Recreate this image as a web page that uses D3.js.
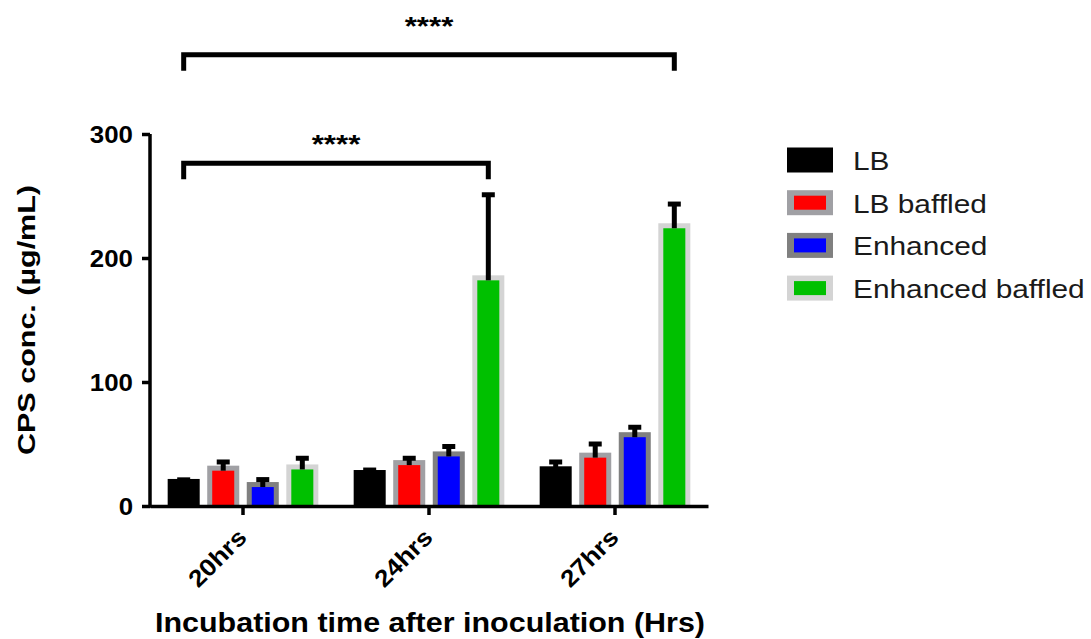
<!DOCTYPE html>
<html>
<head>
<meta charset="utf-8">
<script src="https://cdn.jsdelivr.net/npm/d3@7"></script>
<style>
  html, body { margin: 0; padding: 0; background: #fff; }
  svg { display: block; font-family: "Liberation Sans", Arial, sans-serif; }
</style>
</head>
<body>
<svg id="chart" width="1091" height="639"></svg>
<script>
// ---- data ----
const groups = ["20hrs", "24hrs", "27hrs"];
const seriesNames = ["LB", "LB baffled", "Enhanced", "Enhanced baffled"];
const lbMean = [19.8, 27, 30];
const lbErr = [1.3, 2, 5.5];
const lbBaffledMean = [30.5, 35, 41];
const lbBaffledErr = [5, 3.5, 9];
const enhancedMean = [17.3, 42, 57.5];
const enhancedErr = [4, 6, 6];
const enhancedBaffledMean = [31.5, 184, 226];
const enhancedBaffledErr = [7, 67, 17.5];
const yTicks = [0, 100, 200, 300];
const fillColors = ["#000000", "#ff0000", "#0000ff", "#00c000"];
const borderColors = ["#000000", "#a0a0a4", "#808080", "#d4d4d4"];
// significance brackets: [from group, from series, to group, to series, level (data units), label]
const brackets = [
  ["20hrs", "LB", "24hrs", "Enhanced baffled", 276.5, "****"],
  ["20hrs", "LB", "27hrs", "Enhanced baffled", 364, "****"]
];
const bracketLabelGap = [10, 20];

const means = [lbMean, lbBaffledMean, enhancedMean, enhancedBaffledMean];
const errs = [lbErr, lbBaffledErr, enhancedErr, enhancedBaffledErr];
const rows = [];
groups.forEach((g, gi) => seriesNames.forEach((s, si) => {
  rows.push({group: g, series: s, si, value: means[si][gi], err: errs[si][gi]});
}));

const svg = d3.select("#chart");
const FONT = '"Liberation Sans", Arial, sans-serif';

const x0 = d3.scaleBand().domain(groups).range([150, 708]).paddingInner(0.19).paddingOuter(0.095);
const x1 = d3.scaleBand().domain(seriesNames).range([0, x0.bandwidth()]).paddingInner(0.19).paddingOuter(0);
const y = d3.scaleLinear().domain([0, 300]).range([506, 134]);

function stretch(sel, f) {
  sel.each(function () {
    const len = this.getComputedTextLength();
    d3.select(this).attr("textLength", len * f).attr("lengthAdjust", "spacingAndGlyphs");
  });
}

// ---- bars ----
const B = 5; // border thickness
const barG = svg.append("g");
const bar = barG.selectAll("g.bar").data(rows).join("g").attr("class", "bar")
  .attr("transform", d => `translate(${x0(d.group) + x1(d.series)},0)`);
bar.append("rect")
  .attr("x", 0).attr("width", x1.bandwidth())
  .attr("y", d => y(d.value) - B / 2).attr("height", d => y(0) - y(d.value) + B / 2)
  .attr("fill", d => borderColors[d.si]);
bar.append("rect")
  .attr("x", B).attr("width", x1.bandwidth() - 2 * B)
  .attr("y", d => y(d.value) + B / 2).attr("height", d => Math.max(0, y(0) - y(d.value) - B / 2))
  .attr("fill", d => fillColors[d.si]);

// ---- error bars (upper only) ----
const eb = barG.selectAll("g.err").data(rows).join("g").attr("class", "err")
  .attr("transform", d => `translate(${x0(d.group) + x1(d.series) + x1.bandwidth() / 2},0)`);
eb.append("line")
  .attr("x1", 0).attr("x2", 0)
  .attr("y1", d => y(d.value) + B / 2).attr("y2", d => y(d.value + d.err))
  .attr("stroke", "#000").attr("stroke-width", 5);
eb.append("line")
  .attr("x1", -6.5).attr("x2", 6.5)
  .attr("y1", d => y(d.value + d.err)).attr("y2", d => y(d.value + d.err))
  .attr("stroke", "#000").attr("stroke-width", 5);

// ---- axes ----
const yAxis = svg.append("g").attr("transform", "translate(150,0)")
  .call(d3.axisLeft(y).tickValues(yTicks).tickSize(8).tickSizeOuter(0).tickPadding(9));
yAxis.select(".domain").attr("stroke-width", 3.5).attr("d", `M0,${y(0) + 1.75}V${y(300)}`);
yAxis.selectAll(".tick line").attr("stroke-width", 3.5);
yAxis.selectAll(".tick text").attr("font-family", FONT).attr("font-weight", "bold")
  .attr("font-size", 23.5).attr("fill", "#000").attr("dy", "0.36em").call(stretch, 1.1);

const xAxis = svg.append("g").attr("transform", `translate(0,${y(0)})`)
  .call(d3.axisBottom(x0).tickSize(9).tickSizeOuter(0).tickPadding(0));
xAxis.select(".domain").attr("stroke-width", 3.5);
xAxis.selectAll(".tick line").attr("stroke-width", 3.5);
xAxis.selectAll(".tick text").attr("font-family", FONT).attr("font-weight", "bold")
  .attr("font-size", 24).attr("fill", "#000")
  .attr("y", 0).attr("dy", 0).attr("text-anchor", "end")
  .attr("transform", "translate(5,33) rotate(-45)").call(stretch, 1.1);

// ---- axis titles ----
svg.append("text")
  .attr("transform", `translate(35,${(134 + 506) / 2}) rotate(-90)`)
  .attr("text-anchor", "middle").attr("font-family", FONT).attr("font-weight", "bold")
  .attr("font-size", 24).attr("fill", "#000")
  .attr("textLength", 270).attr("lengthAdjust", "spacingAndGlyphs")
  .text("CPS conc. (µg/mL)");
svg.append("text")
  .attr("x", 430).attr("y", 632)
  .attr("text-anchor", "middle").attr("font-family", FONT).attr("font-weight", "bold")
  .attr("font-size", 27).attr("fill", "#000")
  .attr("textLength", 550).attr("lengthAdjust", "spacingAndGlyphs")
  .text("Incubation time after inoculation (Hrs)");

// ---- significance brackets ----
const drop = 16;
const brG = svg.append("g");
brackets.forEach((b, i) => {
  const xa = x0(b[0]) + x1(b[1]) + x1.bandwidth() / 2;
  const xb = x0(b[2]) + x1(b[3]) + x1.bandwidth() / 2;
  const yl = y(b[4]);
  brG.append("path")
    .attr("d", `M${xa},${yl + drop}V${yl}H${xb}V${yl + drop}`)
    .attr("fill", "none").attr("stroke", "#000").attr("stroke-width", 5)
    .attr("stroke-linejoin", "miter");
  brG.append("text")
    .attr("x", (xa + xb) / 2).attr("y", yl - bracketLabelGap[i])
    .attr("text-anchor", "middle").attr("font-family", FONT).attr("font-weight", "bold")
    .attr("font-size", 26).attr("fill", "#000")
    .text(b[5]).call(stretch, 1.2);
});

// ---- legend ----
const lg = svg.append("g");
seriesNames.forEach((s, i) => {
  const cy = 160 + i * 42.7;
  lg.append("rect").attr("x", 787).attr("y", cy - 12.5).attr("width", 46).attr("height", 25)
    .attr("fill", borderColors[i]);
  lg.append("rect").attr("x", 794).attr("y", cy - 7).attr("width", 32).attr("height", 14)
    .attr("fill", fillColors[i]);
  lg.append("text").attr("x", 853).attr("y", cy + 10)
    .attr("font-family", FONT).attr("font-size", 25.5).attr("fill", "#1a1a1a")
    .text(s).call(stretch, 1.17);
});
</script>
</body>
</html>
